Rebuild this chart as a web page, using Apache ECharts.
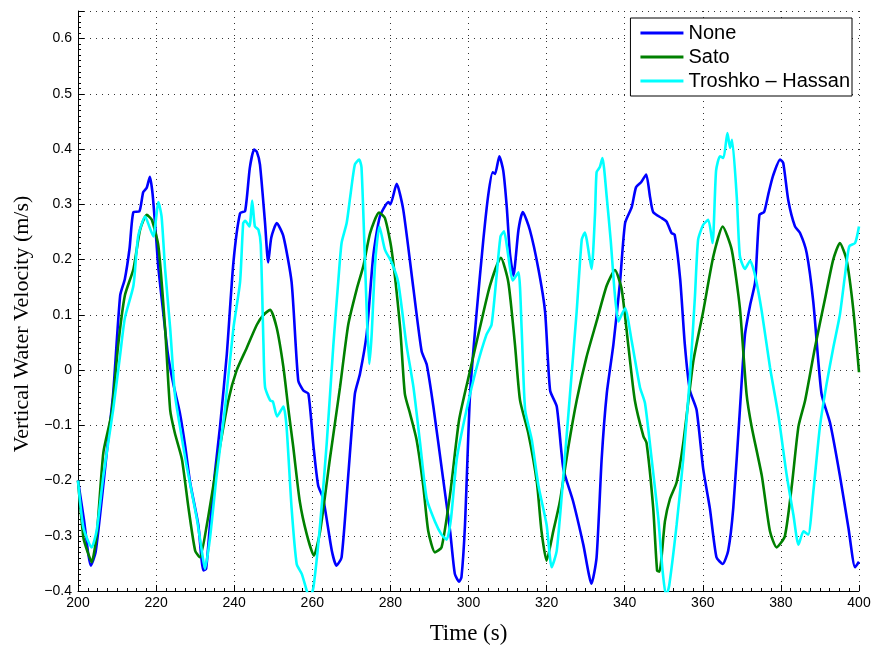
<!DOCTYPE html>
<html>
<head>
<meta charset="utf-8">
<script src="https://cdn.jsdelivr.net/npm/echarts@6/dist/echarts.min.js"></script>
<style>html,body{margin:0;padding:0;background:#fff}#c{width:874px;height:650px}</style>
</head>
<body>
<div id="c"></div>
<script>
// ---- Data (time in s, vertical water velocity in m/s) ----
const seriesNames = ['None', 'Sato', 'Troshko \u2013 Hassan'];
const xTicks = [200, 220, 240, 260, 280, 300, 320, 340, 360, 380, 400];
const yTicks = [-0.4, -0.3, -0.2, -0.1, 0, 0.1, 0.2, 0.3, 0.4, 0.5, 0.6];

const noneT = [200,201.5,203.3,204.5,206,207.5,209,210.8,212,213.2,214.2,215.7,216.7,217.6,218.4,219.1,220,220.6,221.9,223,224.4,226.1,227.5,228.7,230.8,231.6,232.1,232.8,233.8,235,236.4,238.1,239.8,241.5,242.8,244,245.1,245.8,246.6,247.9,248.7,249.5,250.9,252.6,254.7,256.4,257.7,259,260.3,261.5,262.8,265,266.2,267.5,269.2,270.9,272.2,273.9,275.6,277.3,279.5,280,281.6,283.3,285.9,288,289.3,291,293.5,295.3,296.5,297.6,298.2,299.1,300.4,302.1,303.8,305.1,306.2,306.8,307.9,308.9,309.8,310.6,311.5,312.8,313.9,315.7,317.9,319.6,320.9,322.6,324.3,326.8,329.4,331.5,332.8,334.1,335.4,337.1,338.8,340.1,341.8,342.9,344.2,345.5,346.5,347.3,349.5,350.7,352,352.8,354.2,355.4,356.7,358.4,360.1,361.8,363.5,365.1,366.5,367.8,369.5,370.8,372.1,373.4,374.5,375.7,376.8,378,379.8,380.6,381.9,383.6,384.9,386.6,388.3,390.4,392.6,395.1,397.3,399,400];
const noneV = [-0.2,-0.27,-0.354,-0.33,-0.24,-0.14,-0.043,0.135,0.165,0.22,0.286,0.287,0.322,0.33,0.35,0.319,0.24,0.183,0.1,0.03,-0.025,-0.078,-0.14,-0.203,-0.28,-0.34,-0.363,-0.36,-0.28,-0.19,-0.1,0.028,0.195,0.284,0.288,0.366,0.399,0.395,0.372,0.266,0.195,0.24,0.266,0.242,0.159,-0.019,-0.037,-0.043,-0.138,-0.209,-0.233,-0.327,-0.354,-0.339,-0.191,-0.043,-0.007,0.064,0.206,0.278,0.304,0.30,0.337,0.29,0.147,0.034,0.01,-0.066,-0.197,-0.292,-0.369,-0.383,-0.375,-0.28,-0.043,0.106,0.236,0.319,0.358,0.355,0.387,0.361,0.295,0.212,0.171,0.254,0.286,0.254,0.183,0.106,-0.037,-0.066,-0.179,-0.238,-0.316,-0.387,-0.339,-0.161,-0.043,0.046,0.159,0.266,0.295,0.331,0.34,0.354,0.313,0.286,0.275,0.269,0.248,0.245,0.165,0.046,-0.037,-0.072,-0.179,-0.25,-0.339,-0.351,-0.327,-0.25,-0.072,0.064,0.117,0.159,0.281,0.286,0.319,0.352,0.381,0.375,0.307,0.26,0.248,0.212,0.123,-0.043,-0.096,-0.191,-0.286,-0.357,-0.347];

const satoT = [200,201.4,202.5,203.5,204.8,206.5,208.6,210.3,212,214.2,215.9,217.6,218.9,220.6,222.3,223.6,224.8,226.6,228.3,230,231.2,233,235.5,238.5,240.6,243.2,245.8,247.5,249.2,250.9,252.6,253.9,255.1,256.8,258.6,260.4,262,264.5,267.1,269.2,271.4,273.1,274.8,277.1,278.6,280.3,282.5,283.7,285,286.7,288.4,289.7,291.4,293.1,295.3,297.6,300.4,302.9,305.5,308.3,310.2,311.9,313.2,315.3,317.5,318.7,320,321.7,323.4,325.6,327.7,330.2,332.8,335.4,337.5,339.2,340.9,342.6,344.8,345.6,347.3,348.3,348.9,350.3,351.6,353.3,355,357.6,360.1,362.7,365.1,367.4,369.5,371.2,372.5,375.1,377.2,378.9,381,382.8,384.5,386.2,388.7,391.3,393.4,395.1,396.8,398.5,400];
const satoV = [-0.2,-0.304,-0.33,-0.348,-0.298,-0.149,-0.078,0.046,0.135,0.183,0.254,0.281,0.272,0.224,0.076,-0.072,-0.114,-0.161,-0.25,-0.327,-0.339,-0.28,-0.173,-0.055,-0.001,0.04,0.082,0.1,0.109,0.076,0.005,-0.072,-0.138,-0.238,-0.298,-0.336,-0.292,-0.161,-0.031,0.082,0.147,0.189,0.248,0.285,0.275,0.218,0.076,-0.043,-0.078,-0.126,-0.209,-0.292,-0.33,-0.321,-0.224,-0.09,-0.001,0.076,0.153,0.203,0.159,0.046,-0.055,-0.114,-0.203,-0.292,-0.345,-0.292,-0.238,-0.138,-0.055,0.023,0.088,0.153,0.181,0.147,0.046,-0.055,-0.12,-0.132,-0.25,-0.363,-0.365,-0.274,-0.233,-0.203,-0.132,0.017,0.106,0.206,0.26,0.218,0.112,-0.043,-0.102,-0.191,-0.292,-0.321,-0.301,-0.209,-0.102,-0.055,0.04,0.129,0.2,0.23,0.2,0.112,-0.004];

const thT = [200,201.4,203.5,204.8,206.5,209,210.8,212,214.2,215.4,217.2,218.4,219.3,220.6,221.4,222.3,223.6,224.8,226.1,227.8,230.4,231.7,232.5,233.8,235.5,237.6,239.8,241.5,242.3,242.8,243.9,244.6,245.3,246.2,246.8,247.5,247.9,249.2,249.9,251,252.6,253.4,254.7,256,257.3,258.6,259.3,260.3,262,263.7,265.4,266.7,267.5,268.8,269.7,270.9,272,272.6,273.5,274.1,274.6,275.2,276.1,277.2,278.6,280.3,282,284.1,285.9,287.6,289.3,291.4,293.1,294.4,295.5,297,299.5,302.1,304.6,305.9,307.2,308.2,309.1,310.2,311.3,312.8,313.6,314.5,316.2,317.9,320,321.3,322.6,324.3,326,327.7,329,329.8,331.5,332.4,332.8,333.6,334.3,335.4,336.4,337.5,338.4,339.2,340.1,341.8,343.9,345.2,346.9,348.6,349.7,350.6,351.4,353.3,355,356.7,358,358.8,360.1,361.4,362.5,363.4,364.4,365.3,366.3,367,367.5,368.7,369.5,370.8,372.1,373.4,375.1,377.2,379.4,381.5,383.2,384.5,385.8,387,388.3,390,391.7,393.4,395.1,396.4,397.5,399,400];
const thV = [-0.2,-0.286,-0.321,-0.29,-0.191,-0.072,0.028,0.094,0.153,0.242,0.278,0.257,0.242,0.304,0.278,0.183,0.076,-0.043,-0.102,-0.173,-0.268,-0.327,-0.36,-0.304,-0.191,-0.072,0.076,0.159,0.266,0.27,0.26,0.307,0.26,0.254,0.227,0.046,-0.031,-0.055,-0.057,-0.084,-0.066,-0.102,-0.25,-0.351,-0.369,-0.4,-0.415,-0.393,-0.28,-0.132,0.046,0.165,0.23,0.266,0.313,0.372,0.381,0.367,0.195,0.076,0.011,0.064,0.195,0.26,0.218,0.195,0.159,0.046,-0.031,-0.132,-0.233,-0.274,-0.298,-0.307,-0.27,-0.161,-0.072,0.005,0.064,0.082,0.171,0.242,0.251,0.206,0.162,0.177,0.076,-0.072,-0.126,-0.209,-0.28,-0.357,-0.327,-0.191,-0.043,0.106,0.236,0.249,0.183,0.283,0.358,0.367,0.384,0.313,0.236,0.135,0.088,0.1,0.112,0.052,-0.031,-0.06,-0.161,-0.268,-0.363,-0.41,-0.39,-0.28,-0.161,-0.013,0.135,0.236,0.263,0.272,0.23,0.361,0.387,0.384,0.429,0.402,0.417,0.313,0.206,0.183,0.198,0.171,0.106,0.005,-0.084,-0.191,-0.262,-0.316,-0.292,-0.298,-0.221,-0.102,-0.025,0.04,0.1,0.171,0.224,0.23,0.26];

const colors = ['#0000ff', '#008000', '#00ffff'];

function zip(t, v) { return t.map((x, i) => [x, v[i]]); }
const allData = [zip(noneT, noneV), zip(satoT, satoV), zip(thT, thV)];

const chart = echarts.init(document.getElementById('c'), null, { renderer: 'canvas' });
const sans = 'Liberation Sans, Arial, Helvetica, sans-serif';
const serif = 'Liberation Serif, Times New Roman, serif';

const option = {
  backgroundColor: '#ffffff',
  animation: false,
  grid: { left: 78, right: 15, top: 11, bottom: 49, containLabel: false },
  xAxis: {
    type: 'value',
    min: xTicks[0], max: xTicks[xTicks.length - 1], interval: xTicks[1] - xTicks[0],
    name: 'Time (s)', nameLocation: 'middle', nameGap: 31,
    nameTextStyle: { fontFamily: serif, fontSize: 23, color: '#000' },
    axisLine: { show: true, onZero: false, lineStyle: { color: '#000', width: 1 } },
    axisTick: { show: true, inside: true, length: 6, lineStyle: { color: '#000' } },
    minorTick: { show: true, splitNumber: 8, length: 3, lineStyle: { color: '#000' } },
    axisLabel: { fontFamily: sans, fontSize: 14, color: '#000', margin: 5 },
    splitLine: { show: true, lineStyle: { color: '#333', type: [1, 5], width: 1 } }
  },
  yAxis: {
    type: 'value',
    min: yTicks[0], max: 0.65, interval: 0.1,
    axisLine: { show: true, onZero: false, lineStyle: { color: '#000', width: 1 } },
    axisTick: { show: true, inside: true, length: 6, lineStyle: { color: '#000' } },
    minorTick: { show: true, splitNumber: 10, length: 3, lineStyle: { color: '#000' } },
    axisLabel: {
      fontFamily: sans, fontSize: 14, color: '#000', margin: 6, showMaxLabel: false,
      formatter: function (v) {
        if (Math.abs(v) < 1e-9) return '0';
        if (!yTicks.some(t => Math.abs(t - v) < 1e-6)) return '';
        return v.toFixed(1).replace('-', '\u2212');
      }
    },
    splitLine: { show: true, lineStyle: { color: '#333', type: [1, 5], width: 1 } }
  },
  legend: {
    data: seriesNames,
    orient: 'vertical',
    right: 22, top: 18,
    padding: [5, 2, 5, 10],
    itemGap: 4,
    itemWidth: 43, itemHeight: 3,
    icon: 'rect',
    borderColor: '#000', borderWidth: 1,
    backgroundColor: '#fff',
    textStyle: { fontFamily: sans, fontSize: 20, color: '#000' }
  },
  graphic: [{
    type: 'text',
    x: 22, y: 324,
    rotation: Math.PI / 2,
    style: {
      text: 'Vertical Water Velocity (m/s)',
      fontFamily: serif, fontSize: 22, fill: '#000',
      align: 'center', verticalAlign: 'middle'
    }
  }],
  series: seriesNames.map((n, i) => ({
    name: n,
    type: 'line',
    data: allData[i],
    showSymbol: false,
    symbol: 'none',
    smooth: 0.2,
    clip: true,
    color: colors[i],
    lineStyle: { color: colors[i], width: 2.6 }
  }))
};
chart.setOption(option);
</script>
</body>
</html>
